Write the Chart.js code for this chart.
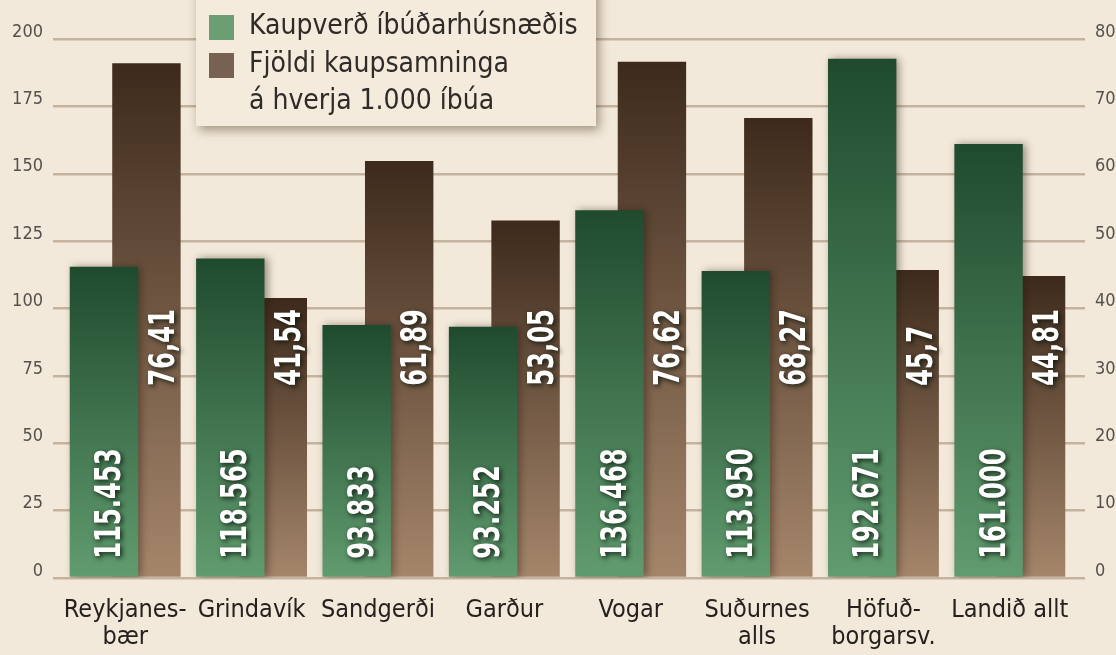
<!DOCTYPE html>
<html>
<head>
<meta charset="utf-8">
<script src="https://cdn.jsdelivr.net/npm/chart.js@4.4.1/dist/chart.umd.min.js"></script>
<style>
  html, body { margin: 0; padding: 0; background: #f3e9da; }
  #wrap { width: 1116px; height: 655px; }
</style>
</head>
<body>
<div id="wrap"><canvas id="chart" width="1116" height="655"></canvas></div>
<script>
const categories = [['Reykjanes-', 'bær'], 'Grindavík', 'Sandgerði', 'Garður', 'Vogar', ['Suðurnes', 'alls'], ['Höfuð-', 'borgarsv.'], 'Landið allt'];
const priceValues = [115.453, 118.565, 93.833, 93.252, 136.468, 113.950, 192.671, 161.000];
const contractValues = [76.41, 41.54, 61.89, 53.05, 76.62, 68.27, 45.7, 44.81];
const leftTicks = [0, 25, 50, 75, 100, 125, 150, 175, 200];
const rightTicks = [0, 10, 20, 30, 40, 50, 60, 70, 80];
const legendLines = [['Kaupverð íbúðarhúsnæðis'], ['Fjöldi kaupsamninga', 'á hverja 1.000 íbúa']];

const GRID = '#c5b39e';
const condensed = '"DejaVu Sans Condensed", "DejaVu Sans", sans-serif';

// vertical gradient per bar, from its top down to the base
function barGradient(topColor, bottomColor) {
  return ctx => {
    const chart = ctx.chart;
    if (!chart.chartArea || ctx.type !== 'data') return topColor;
    const scale = chart.scales[ctx.dataset.yAxisID];
    const yTop = scale.getPixelForValue(ctx.raw);
    const yBase = scale.getPixelForValue(0);
    const g = chart.ctx.createLinearGradient(0, yTop, 0, yBase);
    g.addColorStop(0, topColor);
    g.addColorStop(1, bottomColor);
    return g;
  };
}

const greenShadow = {
  id: 'greenShadow',
  beforeDatasetDraw(chart, args) {
    if (args.index !== 0) return;
    const c = chart.ctx;
    c.save();
    c.shadowColor = 'rgba(40,25,15,0.45)';
    c.shadowBlur = 8;
    c.shadowOffsetX = 3;
    c.shadowOffsetY = 0;
  },
  afterDatasetDraw(chart, args) {
    if (args.index !== 0) return;
    chart.ctx.restore();
  }
};

const valueLabels = {
  id: 'valueLabels',
  afterDatasetsDraw(chart) {
    const c = chart.ctx;
    const green = chart.getDatasetMeta(0).data;
    const brown = chart.getDatasetMeta(1).data;
    c.save();
    c.font = 'bold 35px ' + condensed;
    c.fillStyle = '#ffffff';
    c.textAlign = 'left';
    c.textBaseline = 'middle';
    c.shadowColor = 'rgba(10,20,10,0.85)';
    c.shadowBlur = 5;
    c.shadowOffsetX = 2;
    c.shadowOffsetY = 2;
    const draw = (text, x, y) => {
      c.save();
      c.translate(x, y);
      c.rotate(-Math.PI / 2);
      c.scale(0.77, 1); // squeeze to look like the narrow face
      c.fillText(text, 0, 0);
      c.restore();
    };
    green.forEach((bar, i) => {
      draw(priceValues[i].toFixed(3), bar.x + 7, bar.base - 18);
    });
    brown.forEach((bar, i) => {
      draw(String(contractValues[i]).replace('.', ','), bar.x + 18, bar.base - 191);
    });
    c.restore();
  }
};

const legendBox = {
  id: 'legendBox',
  afterDraw(chart) {
    const c = chart.ctx;
    c.save();
    c.shadowColor = 'rgba(60,40,20,0.45)';
    c.shadowBlur = 10;
    c.shadowOffsetX = 3;
    c.shadowOffsetY = 4;
    c.fillStyle = '#f4ebdc';
    c.fillRect(196, -20, 400, 146);
    c.restore();

    c.save();
    const swatches = ['#6b9e73', '#766152'];
    const rowY = [[27], [65, 102]];
    c.font = '28px ' + condensed;
    c.textAlign = 'left';
    c.textBaseline = 'middle';
    legendLines.forEach((lines, i) => {
      c.fillStyle = swatches[i];
      c.fillRect(209, rowY[i][0] - 12, 25, 25);
      c.fillStyle = '#2f2b28';
      lines.forEach((t, j) => c.fillText(t, 249, rowY[i][j]));
    });
    c.restore();
  }
};

new Chart(document.getElementById('chart'), {
  type: 'bar',
  data: {
    labels: categories,
    datasets: [
      {
        label: legendLines[0].join(' '),
        data: priceValues,
        yAxisID: 'y',
        backgroundColor: barGradient('#1f4a2e', '#619c6f'),
        borderWidth: 0,
        categoryPercentage: 0.6725,
        barPercentage: 1.61
      },
      {
        label: legendLines[1].join(' '),
        data: contractValues,
        yAxisID: 'y1',
        backgroundColor: barGradient('#3d2a1c', '#a5866b'),
        borderWidth: 0,
        categoryPercentage: 0.6725,
        barPercentage: 1.61
      }
    ]
  },
  options: {
    responsive: false,
    animation: false,
    devicePixelRatio: 1,
    layout: { padding: { top: 39, left: 0, right: 0, bottom: 0 } },
    plugins: {
      legend: { display: false },
      tooltip: { enabled: false }
    },
    scales: {
      x: {
        grid: { display: false, drawTicks: false },
        border: { display: false },
        ticks: {
          color: '#26211e',
          padding: 19,
          maxRotation: 0,
          autoSkip: false,
          font: { family: condensed, size: 25, lineHeight: 1.08 }
        },
        afterFit: s => { s.height = 77; }
      },
      y: {
        position: 'left',
        min: leftTicks[0],
        max: leftTicks[leftTicks.length - 1],
        ticks: {
          stepSize: leftTicks[1] - leftTicks[0],
          color: '#55504b',
          padding: 10,
          labelOffset: -7,
          font: { family: condensed, size: 18 }
        },
        grid: { color: GRID, lineWidth: 2.5, tickLength: 9 },
        border: { display: false },
        afterFit: s => { s.width = 62; }
      },
      y1: {
        position: 'right',
        min: rightTicks[0],
        max: rightTicks[rightTicks.length - 1],
        ticks: {
          stepSize: rightTicks[1] - rightTicks[0],
          color: '#55504b',
          padding: 10,
          labelOffset: -7,
          font: { family: condensed, size: 18 }
        },
        grid: { color: GRID, lineWidth: 2.5, tickLength: 12, drawOnChartArea: false },
        border: { display: false },
        afterFit: s => { s.width = 43; }
      }
    }
  },
  plugins: [greenShadow, valueLabels, legendBox]
});
</script>
</body>
</html>
